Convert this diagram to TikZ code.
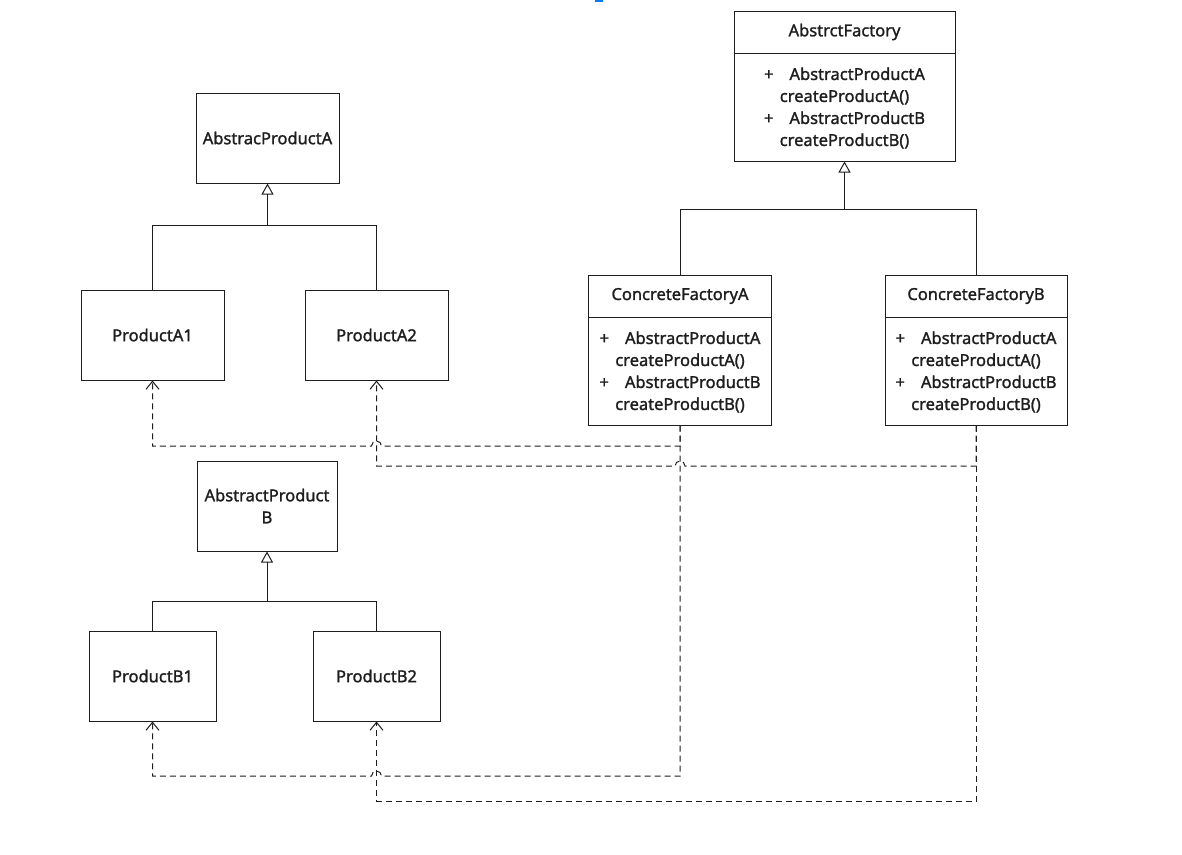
\documentclass[tikz,border=0pt]{standalone}
\usepackage{fontspec}
\setmainfont{Noto Sans}[FakeBold=1.4]
\usetikzlibrary{arrows.meta}
\definecolor{ln}{RGB}{30,30,30}
\definecolor{blu}{RGB}{0,122,255}
\begin{document}
\begin{tikzpicture}[x=1pt,y=-1pt,
  box/.style={draw=ln, line width=1pt, inner sep=0pt, font=\bfseries\fontsize{16.5}{22}\selectfont, align=center, text=ln},
  txt/.style={font=\bfseries\fontsize{16.5}{22}\selectfont, align=center, inner sep=0pt, text=ln},
  solidln/.style={draw=ln, line width=1pt},
  inh/.style={draw=ln, line width=1pt, -{Triangle[open,length=11pt,width=12pt]}},
  dep/.style={draw=ln, line width=1pt, dash pattern=on 6pt off 4pt, -{Straight Barb[length=8pt,width=13pt]}}
]
\useasboundingbox (0,0) rectangle (1182,854);
\fill[white] (0,0) rectangle (1182,854);
\fill[blu] (595,0) rectangle (603,2);

% product A hierarchy
\node[box, minimum width=143pt, minimum height=90pt] (APA) at (267.5,138) {AbstracProductA};
\node[box, minimum width=143pt, minimum height=90pt] (A1) at (152.5,335) {ProductA1};
\node[box, minimum width=143pt, minimum height=90pt] (A2) at (376.5,335) {ProductA2};
\draw[inh] (A1.north) -- (152.5,225) -- (267.5,225) -- (APA.south);
\draw[solidln] (A2.north) -- (376.5,225) -- (267.5,225);

% product B hierarchy
\node[box, minimum width=140pt, minimum height=90pt] (APB) at (267,506) {AbstractProduct\\B};
\node[box, minimum width=127pt, minimum height=90pt] (B1) at (152.5,676) {ProductB1};
\node[box, minimum width=127pt, minimum height=90pt] (B2) at (376.5,676) {ProductB2};
\draw[inh] (B1.north) -- (152.5,601) -- (267,601) -- (APB.south);
\draw[solidln] (B2.north) -- (376.5,601) -- (267,601);

% factories
\node[box, minimum width=221pt, minimum height=150pt] (AF) at (844.5,86) {};
\draw[solidln] (734,53) -- (955,53);
\node[txt] (AFt) at (844.5,32) {AbstrctFactory};
\node[txt] (AFb) at (844.5,108) {+\hspace{16pt}AbstractProductA\\createProductA()\\+\hspace{16pt}AbstractProductB\\createProductB()};

\node[box, minimum width=183pt, minimum height=150pt] (CFA) at (680,350) {};
\draw[solidln] (588.5,317) -- (771.5,317);
\node[txt] (CFAt) at (680,296) {ConcreteFactoryA};
\node[txt] (CFAb) at (680,372) {+\hspace{16pt}AbstractProductA\\createProductA()\\+\hspace{16pt}AbstractProductB\\createProductB()};

\node[box, minimum width=182pt, minimum height=150pt] (CFB) at (976,350) {};
\draw[solidln] (885,317) -- (1067,317);
\node[txt] (CFBt) at (976,296) {ConcreteFactoryB};
\node[txt] (CFBb) at (976,372) {+\hspace{16pt}AbstractProductA\\createProductA()\\+\hspace{16pt}AbstractProductB\\createProductB()};

\draw[inh] (CFA.north) -- (680,209) -- (844.5,209) -- (AF.south);
\draw[solidln] (CFB.north) -- (976,209) -- (844.5,209);

% dependencies
\draw[dep] (CFA.south) -- (680,446) -- (381.5,446) arc[start angle=0,end angle=180,radius=5pt] -- (152.5,446) -- (A1.south);
\draw[dep] (CFB.south) -- (976,466) -- (685,466) arc[start angle=0,end angle=180,radius=5pt] -- (376.5,466) -- (A2.south);
\draw[dep] (CFA.south) -- (680,776) -- (381.5,776) arc[start angle=0,end angle=180,radius=5pt] -- (152.5,776) -- (B1.south);
\draw[dep] (CFB.south) -- (976,801) -- (376.5,801) -- (B2.south);
\end{tikzpicture}
\end{document}
